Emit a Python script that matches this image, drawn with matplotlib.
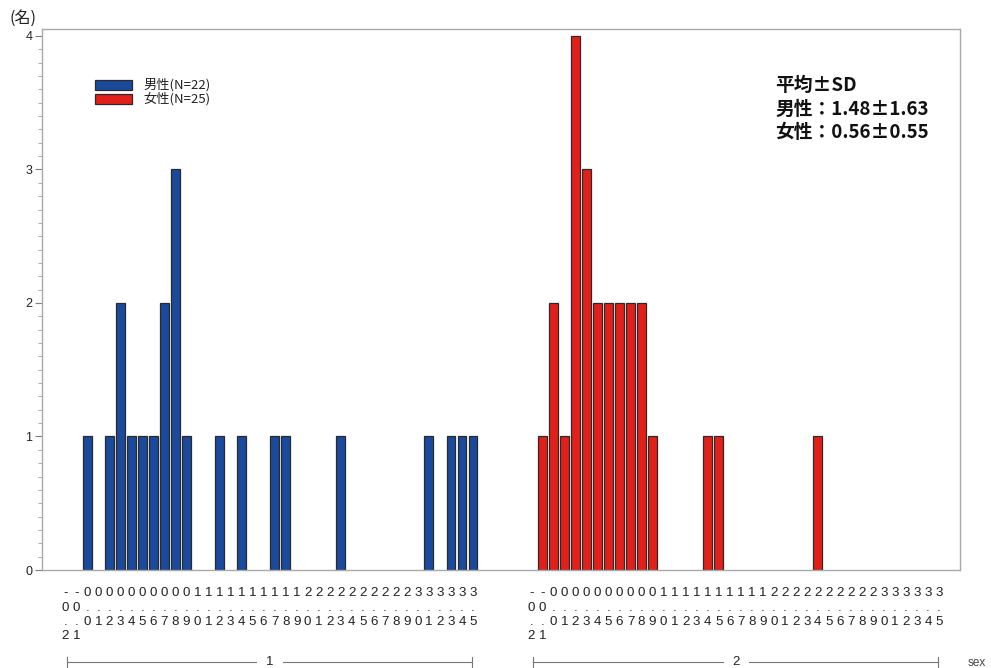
import matplotlib
matplotlib.use("Agg")
import matplotlib.pyplot as plt
import matplotlib.transforms as mtransforms
from matplotlib.patches import Rectangle

plt.rcParams['font.family'] = ['Noto Sans CJK JP', 'DejaVu Sans']

# 階級（0.1刻み）
classes = ["-0.2", "-0.1", "0.0", "0.1", "0.2", "0.3", "0.4", "0.5", "0.6", "0.7",
           "0.8", "0.9", "1.0", "1.1", "1.2", "1.3", "1.4", "1.5", "1.6", "1.7",
           "1.8", "1.9", "2.0", "2.1", "2.2", "2.3", "2.4", "2.5", "2.6", "2.7",
           "2.8", "2.9", "3.0", "3.1", "3.2", "3.3", "3.4", "3.5"]

# 人数
male_counts = [0, 0, 1, 0, 1, 2, 1, 1, 1, 2, 3, 1, 0, 0, 1, 0, 1, 0, 0, 1,
               1, 0, 0, 0, 0, 1, 0, 0, 0, 0, 0, 0, 0, 1, 0, 1, 1, 1]
female_counts = [0, 1, 2, 1, 4, 3, 2, 2, 2, 2, 2, 1, 0, 0, 0, 0, 1, 1, 0, 0,
                 0, 0, 0, 0, 0, 0, 1, 0, 0, 0, 0, 0, 0, 0, 0, 0, 0, 0]

groups = ["1", "2"]
legend_labels = ["男性(N=22)", "女性(N=25)"]
stats_lines = ["平均±SD", "男性：1.48±1.63", "女性：0.56±0.55"]

blue = "#1b4a9c"
red = "#e31f1a"
edge = "#2a2a2a"
frame = "#a7a9ac"

fig = plt.figure(figsize=(9.91, 6.68), dpi=100)
ax = fig.add_axes([0.0424, 0.1467, 0.9263, 0.8099])

offset = 42.3
x1 = list(range(len(classes)))
x2 = [i + offset for i in x1]

# 0人の階級は描かない
for xs, counts, col in [(x1, male_counts, blue), (x2, female_counts, red)]:
    xx = [x for x, c in zip(xs, counts) if c > 0]
    cc = [c for c in counts if c > 0]
    ax.bar(xx, cc, width=0.8, color=col, edgecolor=edge, linewidth=0.9)

ax.set_xlim(-2.11, 81.2)
ax.set_ylim(0, 4.052)

for s in ax.spines.values():
    s.set_color(frame)
    s.set_linewidth(1.0)

# y軸
ax.set_yticks([0, 1, 2, 3, 4])
ax.set_yticks([i / 10 for i in range(41)], minor=True)
ax.tick_params(axis='y', which='major', length=5, width=0.8, color="#7f7f7f",
               labelsize=9, pad=2, labelcolor="#222222")
ax.tick_params(axis='y', which='minor', length=3, width=0.6, color="#9a9a9a")
for t in ax.get_yticklabels():
    t.set_family(['Liberation Sans', 'DejaVu Sans'])
ax.text(-0.0207, 1.004, "(名)", transform=ax.transAxes, ha='center', va='bottom',
        fontsize=11.5, color="#222222")

# x軸：文字を縦に積んだラベル
ax.set_xticks(x1 + x2)
ax.set_xticklabels(["\n".join(c) for c in classes] * 2,
                   family=['Liberation Sans', 'DejaVu Sans'], fontsize=9.6,
                   color="#222222", linespacing=1.24)
ax.tick_params(axis='x', length=0, pad=12.5)

# グループ線
trans = mtransforms.blended_transform_factory(ax.transData, ax.transAxes)
yline = -0.170
for g, xs in zip(groups, [x1, x2]):
    a, b = xs[0] + 0.15, xs[-1] - 0.05
    mid = (a + b) / 2
    ax.plot([a, mid - 1.2], [yline, yline], color="#777777", lw=0.8,
            transform=trans, clip_on=False)
    ax.plot([mid + 1.2, b], [yline, yline], color="#777777", lw=0.8,
            transform=trans, clip_on=False)
    for e in (a, b):
        ax.plot([e, e], [yline - 0.009, yline + 0.009], color="#777777", lw=0.8,
                transform=trans, clip_on=False)
    ax.text(mid, yline, g, transform=trans, ha='center', va='center',
            fontsize=9.5, family=['Liberation Sans', 'DejaVu Sans'], color="#222222")
ax.text(1.0087, yline - 0.002, "sex", transform=ax.transAxes, ha='left', va='center',
        fontsize=8.5, family=['Liberation Sans', 'DejaVu Sans'], color="#444444")

# 凡例
for k, (lab, col) in enumerate(zip(legend_labels, [blue, red])):
    y0 = 0.887 - k * 0.0259
    ax.add_patch(Rectangle((0.0577, y0), 0.0403, 0.0185, transform=ax.transAxes,
                           facecolor=col, edgecolor=edge, lw=0.9, clip_on=False))
    ax.text(0.110, y0 + 0.0092, lab, transform=ax.transAxes, ha='left', va='center',
            fontsize=9.5, color="#222222")

# 平均±SD
for k, line in enumerate(stats_lines):
    ax.text(0.7985, 0.895 - k * 0.0435, line, transform=ax.transAxes, ha='left',
            va='center', fontsize=13.5, fontweight='bold', color="#111111")

fig.savefig("out.png", dpi=100)
